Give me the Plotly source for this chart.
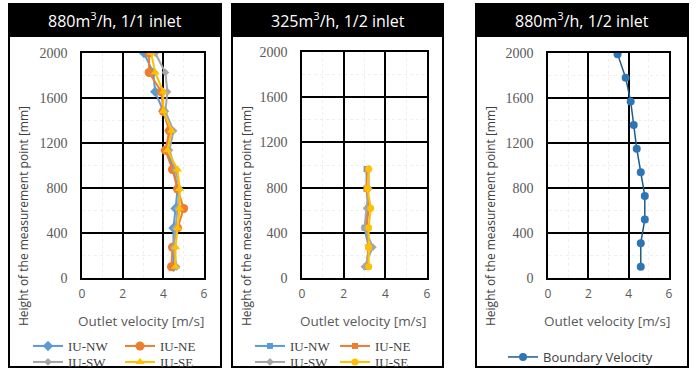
import plotly.graph_objects as go

W, H = 697, 376

# ---------------- data ----------------
titles = ["880m<sup>3</sup>/h, 1/1 inlet", "325m<sup>3</sup>/h, 1/2 inlet", "880m<sup>3</sup>/h, 1/2 inlet"]
series_names = ["IU-NW", "IU-NE", "IU-SW", "IU-SE"]

h1 = [100, 273, 445, 618, 791, 964, 1136, 1309, 1482, 1655, 1827, 2000]
p1_nw = [4.5, 4.5, 4.5, 4.6, 4.7, 4.5, 4.2, 4.3, 4.0, 3.6, 3.5, 3.05]
p1_ne = [4.4, 4.45, 4.7, 5.0, 4.7, 4.45, 4.1, 4.3, 4.0, 3.9, 3.3, 3.3]
p1_sw = [4.65, 4.5, 4.6, 4.7, 4.8, 4.6, 4.3, 4.5, 4.1, 4.2, 4.1, 3.6]
p1_se = [4.6, 4.6, 4.7, 4.8, 4.8, 4.7, 4.2, 4.4, 4.0, 4.0, 3.6, 3.4]

h2 = [100, 273, 445, 618, 791, 964]
p2_nw = [3.1, 3.2, 3.0, 3.2, 3.1, 3.1]
p2_ne = [3.1, 3.2, 3.1, 3.2, 3.1, 3.15]
p2_sw = [3.0, 3.4, 3.0, 3.1, 3.2, 3.2]
p2_se = [3.2, 3.2, 3.2, 3.3, 3.15, 3.2]

h3 = [100, 310, 520, 730, 940, 1150, 1360, 1570, 1780, 1990]
p3_bv = [4.6, 4.6, 4.8, 4.8, 4.6, 4.4, 4.25, 4.1, 3.85, 3.45]

x_ticks = [0, 2, 4, 6]
y_ticks = [0, 400, 800, 1200, 1600, 2000]

colors = {"IU-NW": "#5B9BD5", "IU-NE": "#ED7D31", "IU-SW": "#A5A5A5", "IU-SE": "#FFC000"}

# ---------------- helpers ----------------
def px(x):
    return x / W

def py(y):
    return 1 - y / H

fig = go.Figure()

panels = [  # (box x0, x1, plot x0, x1, plot top y)
    (9, 221, 82, 204, 53),
    (232, 443, 302, 427, 52),
    (476, 688, 548, 669, 53),
]
plot_bottom = 278

axis_ids = ["", "2", "3"]
for i, (bx0, bx1, ax0, ax1, atop) in enumerate(panels):
    s = axis_ids[i]
    fig.update_layout(**{
        "xaxis" + s: dict(
            domain=[px(ax0), px(ax1)], anchor="y" + s, range=[0, 6], tickvals=x_ticks,
            showgrid=True, gridcolor="black", gridwidth=1.5, zeroline=False,
            showline=True, mirror=True, linecolor="black", linewidth=1.5,
            ticks="", ticklabelstandoff=4,
            tickfont=dict(family="Open Sans", size=12, color="#595959"),
            minor=dict(dtick=1, showgrid=True, gridcolor="#efefef", gridwidth=1, griddash="dot"),
        ),
        "yaxis" + s: dict(
            domain=[py(plot_bottom), py(atop)], anchor="x" + s, range=[0, 2000], tickvals=y_ticks,
            showgrid=True, gridcolor="black", gridwidth=1.5, zeroline=False,
            showline=True, mirror=True, linecolor="black", linewidth=1.5,
            ticks="", ticklabelstandoff=10,
            tickfont=dict(family="Liberation Serif", size=14, color="#595959"),
            minor=dict(dtick=200, showgrid=True, gridcolor="#efefef", gridwidth=1, griddash="dot"),
        ),
    })

# ---------------- traces ----------------
p1 = {"IU-NW": p1_nw, "IU-NE": p1_ne, "IU-SW": p1_sw, "IU-SE": p1_se}
p2 = {"IU-NW": p2_nw, "IU-NE": p2_ne, "IU-SW": p2_sw, "IU-SE": p2_se}
sym1 = {"IU-NW": "diamond", "IU-NE": "circle", "IU-SW": "diamond", "IU-SE": "triangle-up"}
sym2 = {"IU-NW": "square", "IU-NE": "square", "IU-SW": "diamond", "IU-SE": "circle"}
size1 = {"IU-NW": 8, "IU-NE": 9, "IU-SW": 6, "IU-SE": 8}
size2 = {"IU-NW": 6, "IU-NE": 6, "IU-SW": 6, "IU-SE": 7}

leg_names = ["legend", "legend2", "legend3", "legend4", "legend5", "legend6", "legend7", "legend8", "legend9"]

for k, name in enumerate(series_names):
    fig.add_trace(go.Scatter(
        x=p1[name], y=h1, mode="lines+markers", name=name,
        line=dict(color=colors[name], width=2),
        marker=dict(symbol=sym1[name], size=size1[name], color=colors[name]),
        xaxis="x", yaxis="y", legend=leg_names[k],
    ))
for k, name in enumerate(series_names):
    fig.add_trace(go.Scatter(
        x=p2[name], y=h2, mode="lines+markers", name=name,
        line=dict(color=colors[name], width=2),
        marker=dict(symbol=sym2[name], size=size2[name], color=colors[name]),
        xaxis="x2", yaxis="y2", legend=leg_names[4 + k],
    ))
fig.add_trace(go.Scatter(
    x=p3_bv, y=h3, mode="lines+markers", name="Boundary Velocity",
    line=dict(color="#1F5C8B", width=1.5),
    marker=dict(symbol="circle", size=8, color="#2E75B6"),
    xaxis="x3", yaxis="y3", legend="legend9",
))

# legend positions: (text x px, text centre y px)
leg_pos = [
    (68, 346), (160, 346), (68, 362), (160, 362),
    (290, 346), (375, 346), (290, 362), (375, 362),
    (543, 357),
]
leg_layout = {}
for ln, (tx, ty) in zip(leg_names, leg_pos):
    font = dict(family="Liberation Serif", size=13, color="#404040")
    if ln == "legend9":
        font = dict(family="Open Sans", size=13, color="#404040")
    leg_layout[ln] = dict(
        x=px(tx - 40), y=py(ty), xanchor="left", yanchor="middle",
        orientation="h", bgcolor="rgba(0,0,0,0)", borderwidth=0,
        font=font, itemwidth=30, tracegroupgap=0,
    )
fig.update_layout(**leg_layout)

# ---------------- frames, headers, titles ----------------
shapes = []
annotations = []
for i, (bx0, bx1, ax0, ax1, atop) in enumerate(panels):
    shapes.append(dict(type="rect", xref="paper", yref="paper",
                       x0=px(bx0), x1=px(bx1), y0=py(367), y1=py(4),
                       line=dict(color="black", width=2), fillcolor="rgba(0,0,0,0)", layer="above"))
    shapes.append(dict(type="rect", xref="paper", yref="paper",
                       x0=px(bx0), x1=px(bx1), y0=py(36), y1=py(4),
                       line=dict(color="black", width=2), fillcolor="black", layer="above"))
    annotations.append(dict(text=titles[i], xref="paper", yref="paper",
                            x=px((bx0 + bx1) / 2), y=py(20), xanchor="center", yanchor="middle",
                            showarrow=False, font=dict(family="Open Sans", size=16, color="white")))
    annotations.append(dict(text="Height of the measurement point [mm]", xref="paper", yref="paper",
                            x=px(bx0 + 14), y=py(216), xanchor="center", yanchor="middle", textangle=-90,
                            showarrow=False, font=dict(family="Open Sans", size=12, color="#404040")))
    annotations.append(dict(text="Outlet velocity [m/s]", xref="paper", yref="paper",
                            x=px((ax0 + ax1) / 2 - 2), y=py(321), xanchor="center", yanchor="middle",
                            showarrow=False, font=dict(family="Open Sans", size=13.5, color="#595959")))

fig.update_layout(
    width=W, height=H, autosize=False,
    margin=dict(l=0, r=0, t=0, b=0, autoexpand=False),
    paper_bgcolor="white", plot_bgcolor="white",
    shapes=shapes, annotations=annotations,
    showlegend=True,
)

fig.write_html("out.html", config={"displayModeBar": False},
               post_script="document.body.style.margin='0';document.body.style.padding='0';document.body.style.overflow='hidden';")
